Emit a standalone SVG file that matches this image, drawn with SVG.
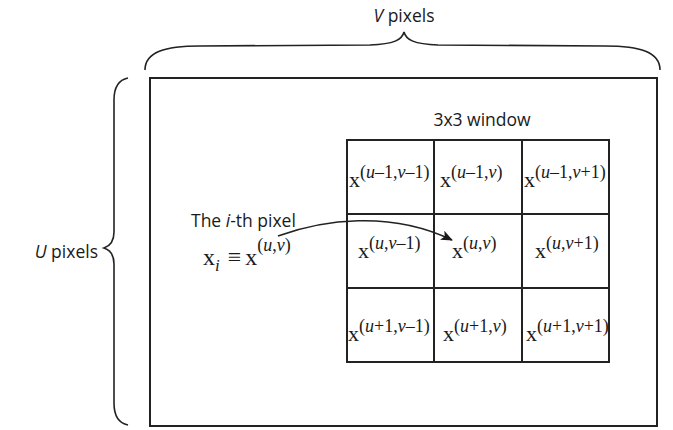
<svg xmlns="http://www.w3.org/2000/svg" width="673" height="430" viewBox="0 0 673 430">
<style>
.lbl{font-family:"Open Sans","Noto Sans",sans-serif;font-size:17.5px;fill:#1a1a1a}
.it{font-style:italic}
.m{font-family:"Liberation Serif","Times New Roman",serif;fill:#1a1a1a}
.bx{font-size:22px}
.sp{font-size:18px}
.v{font-style:italic}
.ln{fill:none;stroke:#222;stroke-width:2}
.br{fill:none;stroke:#222;stroke-width:1.6}
</style>
<defs>
<marker id="ah" viewBox="0 0 12 10" refX="11" refY="5" markerWidth="12" markerHeight="10" markerUnits="userSpaceOnUse" orient="auto">
<path d="M0,0 L12,5 L0,10 L3,5 Z" fill="#1a1a1a"/>
</marker>
</defs>
<rect id="image" class="ln" x="150" y="78" width="507" height="348"/>
<g id="top-brace">
<path class="br" d="M145,70 C145,52 165,46 200,46 L370,45 C394,44 402,40 404,32 C406,40 414,44 438,45 L605,46 C640,46 660,52 660,70"/>
<text class="lbl" x="404" y="22" text-anchor="middle"><tspan class="it">V</tspan> pixels</text>
</g>
<g id="left-brace">
<path class="br" d="M128,78 C118,80 114,88 114,100 L114,232 C114,242 110,246 104,248 C110,250 114,254 114,264 L114,403 C114,415 118,423 128,425"/>
<text class="lbl" x="98" y="258" text-anchor="end"><tspan class="it">U</tspan> pixels</text>
</g>
<g id="window">
<text class="lbl" x="482" y="126" text-anchor="middle">3x3 window</text>
<rect class="ln" x="347" y="140" width="262" height="222"/>
<line class="ln" x1="434" y1="140" x2="434" y2="362"/>
<line class="ln" x1="522" y1="140" x2="522" y2="362"/>
<line class="ln" x1="347" y1="214" x2="609" y2="214"/>
<line class="ln" x1="347" y1="288" x2="609" y2="288"/>
</g>
<g id="cell-r1c1"><text class="m" x="349" y="187"><tspan class="bx">x</tspan><tspan class="sp" dy="-9">(<tspan class="v">u</tspan>–1,<tspan class="v">v</tspan>–1)</tspan></text></g>
<g id="cell-r1c2"><text class="m" x="440" y="187"><tspan class="bx">x</tspan><tspan class="sp" dy="-9">(<tspan class="v">u</tspan>–1,<tspan class="v">v</tspan>)</tspan></text></g>
<g id="cell-r1c3"><text class="m" x="524" y="187"><tspan class="bx">x</tspan><tspan class="sp" dy="-9">(<tspan class="v">u</tspan>–1,<tspan class="v">v</tspan>+1)</tspan></text></g>
<g id="cell-r2c1"><text class="m" x="358" y="258"><tspan class="bx">x</tspan><tspan class="sp" dy="-9">(<tspan class="v">u</tspan>,<tspan class="v">v</tspan>–1)</tspan></text></g>
<g id="cell-r2c2"><text class="m" x="452" y="258"><tspan class="bx">x</tspan><tspan class="sp" dy="-9">(<tspan class="v">u</tspan>,<tspan class="v">v</tspan>)</tspan></text></g>
<g id="cell-r2c3"><text class="m" x="535" y="258"><tspan class="bx">x</tspan><tspan class="sp" dy="-9">(<tspan class="v">u</tspan>,<tspan class="v">v</tspan>+1)</tspan></text></g>
<g id="cell-r3c1"><text class="m" x="348" y="341"><tspan class="bx">x</tspan><tspan class="sp" dy="-9">(<tspan class="v">u</tspan>+1,<tspan class="v">v</tspan>–1)</tspan></text></g>
<g id="cell-r3c2"><text class="m" x="443" y="341"><tspan class="bx">x</tspan><tspan class="sp" dy="-9">(<tspan class="v">u</tspan>+1,<tspan class="v">v</tspan>)</tspan></text></g>
<g id="cell-r3c3"><text class="m" x="526" y="341"><tspan class="bx">x</tspan><tspan class="sp" dy="-9">(<tspan class="v">u</tspan>+1,<tspan class="v">v</tspan>+1)</tspan></text></g>
<g id="pixel">
<text class="lbl" x="191" y="227">The <tspan class="it">i</tspan>-th pixel</text>
<text class="m" x="203" y="265"><tspan font-size="24">x</tspan><tspan class="v" font-size="17" dy="6">i</tspan><tspan font-size="24" dx="8" dy="-6">≡</tspan><tspan font-size="24" dx="4">x</tspan><tspan font-size="18" dy="-14">(<tspan class="v">u</tspan>,<tspan class="v">v</tspan>)</tspan></text>
</g>
<g id="connectors">
<path class="br" d="M278,236 C322,220 390,210 452,240" marker-end="url(#ah)"/>
</g>
</svg>
